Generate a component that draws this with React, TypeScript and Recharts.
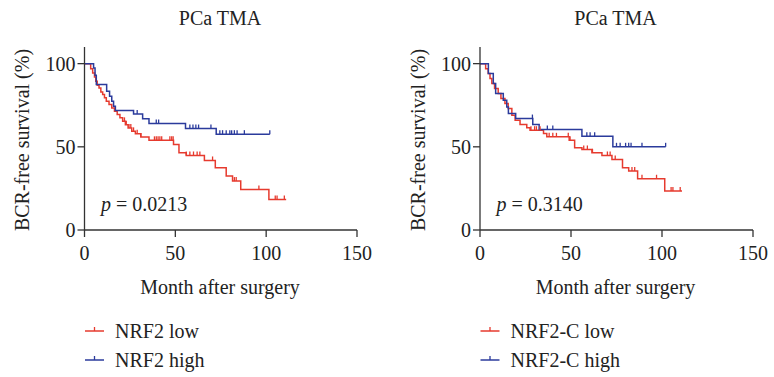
import React from "react"
import { ComposedChart, Line, Scatter, XAxis, YAxis } from "recharts"

const RED = "#e63a2e"
const BLUE = "#2b3b9c"
const AXIS = "#333333"
const FONT = "'Liberation Serif', 'Times New Roman', serif"

const xTicks = [0, 50, 100, 150]
const yTicks = [0, 50, 100]

// Kaplan-Meier steps: [month, survival %]
const nrf2LowSteps: [number, number][] = [
  [0, 100], [3.4, 97], [4.5, 94.4], [5.5, 92], [6.2, 89.4], [7, 87], [8, 85.4], [9, 83],
  [10, 81.4], [11, 79.5], [12, 77.4], [13.5, 75.5], [15, 73.4], [16.5, 71.4], [18, 69.4],
  [19.5, 67.4], [21, 65.3], [22.5, 63.3], [24, 61.3], [26, 59.3], [28, 57.9], [31, 55.9],
  [35.5, 53.9], [49, 51.4], [52, 46.4], [56, 44.8], [66, 41.8], [72, 37.4], [78, 32.4],
  [81.5, 29.4], [86, 24.4], [101.5, 18.4], [111, 18.4],
]
const nrf2LowCensor = [22, 23, 24.5, 25.5, 27, 29, 31, 38.5, 39.5, 40.5, 41.5, 42.5, 47, 48, 48.8, 56, 58, 60, 62, 63.5, 70.5, 82.5, 83.5, 96, 105, 106, 110]

const nrf2HighSteps: [number, number][] = [
  [0, 100], [5, 97.4], [5.8, 93], [6.5, 87.4], [12.2, 83.4], [13.8, 80.4], [15, 77.4],
  [16, 74.4], [17, 71.8], [27, 69.8], [32, 66.8], [35.5, 64], [55.6, 61], [72.5, 57.6], [102, 57.6],
]
const nrf2HighCensor = [29, 39.5, 40.8, 58, 59.7, 61.3, 62.8, 69.6, 74.5, 76, 78, 80, 81, 82.5, 84, 88, 102]

const nrf2cLowSteps: [number, number][] = [
  [0, 100], [3.1, 97], [4.5, 94], [5.5, 91], [6.5, 88], [8, 85], [10, 82], [11.5, 79],
  [13.7, 76], [15.5, 73], [17.5, 69], [19.3, 66], [22, 63.4], [25.7, 61.4], [27.5, 60],
  [34.9, 58], [36.7, 56], [49, 54], [52, 49.4], [56, 48.4], [61.5, 46.4], [67, 44.8],
  [72.5, 42.4], [78.3, 37.4], [81.7, 35.4], [86.6, 30.8], [101.5, 23.4], [111, 23.4],
]
const nrf2cLowCensor = [28, 30, 31, 33, 38, 40, 42, 48.5, 49.5, 57, 59, 61.8, 70, 71.5, 74.3, 83.5, 85, 89, 97, 105, 106, 110]

const nrf2cHighSteps: [number, number][] = [
  [0, 100], [4.6, 94], [7.3, 88], [8.6, 82], [12.8, 78], [14.7, 74], [15.6, 70], [19.6, 67],
  [29, 63.4], [32.5, 60.4], [56, 56.4], [73, 50], [102, 50],
]
const nrf2cHighCensor = [28.8, 37, 40, 58.7, 60.5, 63, 75, 77, 80, 81.7, 83, 89, 102]

const toRows = (steps: [number, number][]) => steps.map(([t, s]) => ({ t, s }))

// survival level of the curve at a censor time
const censorRows = (steps: [number, number][], times: number[]) =>
  times.map((t) => {
    let s = steps[0][1]
    steps.forEach(([st, sv]) => {
      if (st <= t) s = sv
    })
    return { t, s }
  })

const CensorTick = (props: any) => {
  const { cx, cy, fill } = props
  if (cx == null || cy == null) return null
  return <line x1={cx} x2={cx} y1={cy - 4} y2={cy} stroke={fill} strokeWidth={1.3} />
}

const tickStyle = { fill: "#222", fontSize: 20, fontFamily: FONT }

function KMPanel(props: {
  left: number
  yAxisWidth: number
  rightMargin: number
  low: [number, number][]
  lowCensor: number[]
  high: [number, number][]
  highCensor: number[]
}) {
  const { left, yAxisWidth, rightMargin, low, lowCensor, high, highCensor } = props
  return (
    <div style={{ position: "absolute", left, top: 0 }}>
      <ComposedChart width={387} height={272} margin={{ top: 47, right: rightMargin, left: 0, bottom: 0 }}>
        <XAxis
          type="number"
          dataKey="t"
          domain={[0, 150]}
          ticks={xTicks}
          height={42}
          tickSize={7}
          tickMargin={9}
          stroke={AXIS}
          strokeWidth={1.3}
          tick={tickStyle}
          allowDuplicatedCategory={false}
        />
        <YAxis
          type="number"
          dataKey="s"
          domain={[0, 110]}
          ticks={yTicks}
          width={yAxisWidth}
          tickSize={7}
          tickMargin={2}
          stroke={AXIS}
          strokeWidth={1.3}
          tick={tickStyle}
        />
        <Line data={toRows(low)} dataKey="s" type="stepAfter" stroke={RED} strokeWidth={1.5} dot={false} isAnimationActive={false} />
        <Line data={toRows(high)} dataKey="s" type="stepAfter" stroke={BLUE} strokeWidth={1.5} dot={false} isAnimationActive={false} />
        <Scatter data={censorRows(low, lowCensor)} dataKey="s" fill={RED} shape={CensorTick} isAnimationActive={false} />
        <Scatter data={censorRows(high, highCensor)} dataKey="s" fill={BLUE} shape={CensorTick} isAnimationActive={false} />
      </ComposedChart>
    </div>
  )
}

function LegendItem({ x, y, color, label }: { x: number; y: number; color: string; label: string }) {
  return (
    <g>
      <line x1={x} x2={x + 19} y1={y} y2={y} stroke={color} strokeWidth={1.5} />
      <line x1={x + 9.5} x2={x + 9.5} y1={y - 4} y2={y} stroke={color} strokeWidth={1.3} />
      <text x={x + 30} y={y + 6.5} fontSize={20} fontFamily={FONT} fill="#222">
        {label}
      </text>
    </g>
  )
}

function Labels({ dx, pText, lowLabel, highLabel }: { dx: number; pText: string; lowLabel: string; highLabel: string }) {
  return (
    <g transform={`translate(${dx},0)`}>
      <text x={220} y={25} textAnchor="middle" fontSize={20} fontFamily={FONT} fill="#222">
        PCa TMA
      </text>
      <text
        transform="translate(29,140) rotate(-90)"
        textAnchor="middle"
        fontSize={20}
        fontFamily={FONT}
        fill="#222"
      >
        BCR-free survival (%)
      </text>
      <text x={220} y={294} textAnchor="middle" fontSize={20} fontFamily={FONT} fill="#222">
        Month after surgery
      </text>
      <text x={101} y={211} fontSize={20} fontFamily={FONT} fill="#222">
        <tspan fontStyle="italic">p</tspan> = {pText}
      </text>
      <LegendItem x={85} y={331} color={RED} label={lowLabel} />
      <LegendItem x={85} y={360} color={BLUE} label={highLabel} />
    </g>
  )
}

export default function App() {
  return (
    <div style={{ position: "absolute", left: 0, top: 0, width: 774, height: 377, background: "#fff", overflow: "hidden" }}>
      <KMPanel left={0} yAxisWidth={84.5} rightMargin={30} low={nrf2LowSteps} lowCensor={nrf2LowCensor} high={nrf2HighSteps} highCensor={nrf2HighCensor} />
      <KMPanel left={387} yAxisWidth={93} rightMargin={21} low={nrf2cLowSteps} lowCensor={nrf2cLowCensor} high={nrf2cHighSteps} highCensor={nrf2cHighCensor} />
      <svg width={774} height={377} style={{ position: "absolute", left: 0, top: 0, pointerEvents: "none" }}>
        <Labels dx={0} pText="0.0213" lowLabel="NRF2 low" highLabel="NRF2 high" />
        <Labels dx={395.5} pText="0.3140" lowLabel="NRF2-C low" highLabel="NRF2-C high" />
      </svg>
    </div>
  )
}
